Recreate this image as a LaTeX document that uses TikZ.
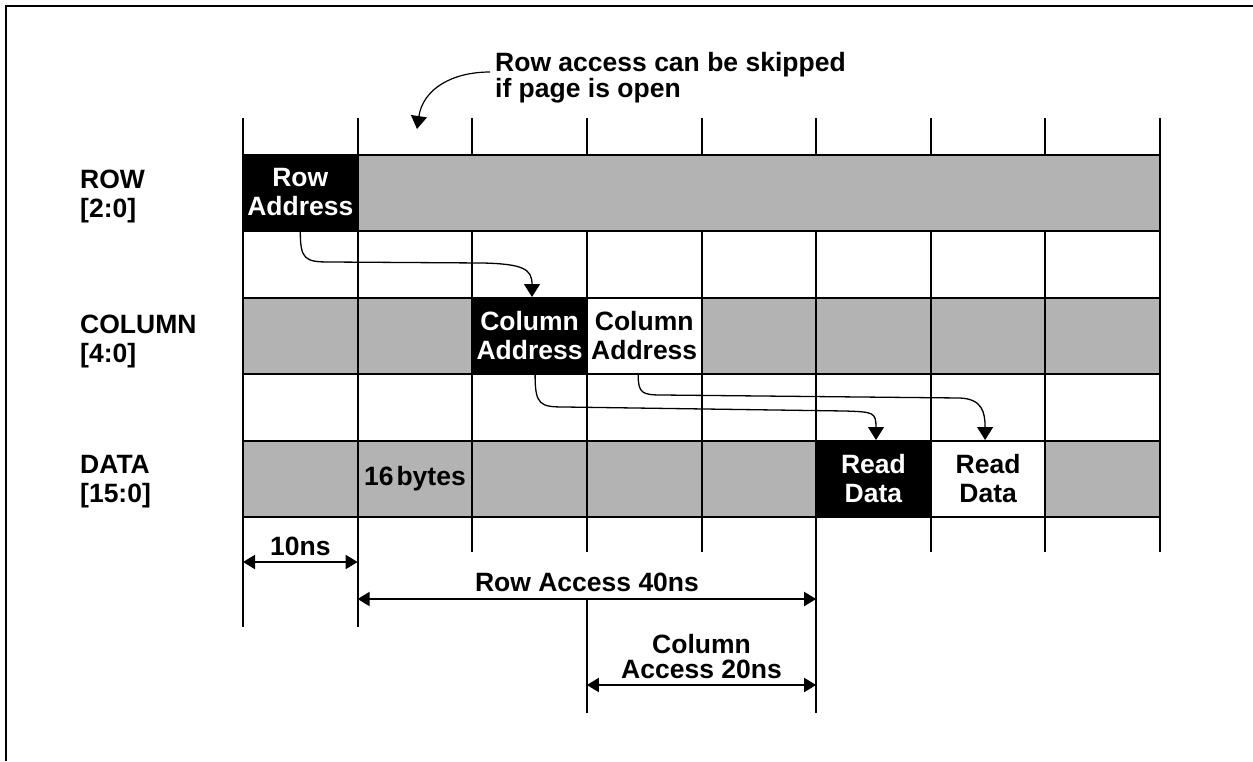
\documentclass[tikz,border=0pt]{standalone}
\usepackage{fontspec}
\setmainfont{Liberation Sans}
\usetikzlibrary{arrows.meta,calc}
\definecolor{bandgray}{RGB}{179,179,179}
\begin{document}
\begin{tikzpicture}[x=1pt,y=-1pt,
  lbl/.style={font=\bfseries\fontsize{26.5}{29}\selectfont, inner sep=0pt},
  cell/.style={lbl, draw, line width=2pt, minimum width=114.625pt,
               minimum height=76pt, align=center, fill=bandgray},
  blk/.style={cell, fill=black, text=white},
  wht/.style={cell, fill=white},
  grid/.style={line width=2pt},
  link/.style={line width=1.3pt, -{Triangle[length=13pt,width=16pt]}},
  dim/.style={line width=2pt,
              {Triangle[length=12pt,width=14pt]}-{Triangle[length=12pt,width=14pt]}},
]
\useasboundingbox (0,0) rectangle (1253,761);

% outer frame
\draw[line width=2pt] (6,761) -- (6,6) -- (1253,6);

% clock grid lines
\foreach \i in {0,...,8}
  \draw[grid] ({243+114.625*\i},118) -- ({243+114.625*\i},552);
\draw[grid] (243,552) -- (243,627);
\draw[grid] (357.625,552) -- (357.625,627);
\draw[grid] (816.125,552) -- (816.125,713);
\draw[grid] (586.875,599) -- (586.875,713);

% signal names
\node[lbl, align=left, anchor=north west] (nrow) at (80,170) {ROW\\{[2:0]}};
\node[lbl, align=left, anchor=north west] (ncol) at (80,315) {COLUMN\\{[4:0]}};
\node[lbl, align=left, anchor=north west] (ndat) at (80,455) {DATA\\{[15:0]}};

% ROW bus
\node[cell, minimum width=917pt] (rowband) at (701.5,192.5) {};
\node[blk] (ra) at (300.3,192.5) {Row\\Address};

% COLUMN bus
\foreach \i in {0,1,4,5,6,7}
  \node[cell] (col\i) at ({243+114.625*(\i+0.5)},336) {};
\node[blk] (ca) at (529.6,336) {Column\\Address};
\node[wht] (cb) at (644.2,336) {Column\\Address};

% DATA bus
\foreach \i in {0,2,3,4,7}
  \node[cell] (dat\i) at ({243+114.625*(\i+0.5)},479) {};
\node[cell] (dat1) at (414.9,479) {16\kern3pt bytes};
\node[blk] (rd1) at (873.4,479) {Read\\Data};
\node[wht] (rd2) at (988.1,479) {Read\\Data};

% note on the open page
\node[lbl, font=\bfseries\fontsize{26.5}{26}\selectfont, align=left,
      anchor=north west] (note) at (495,52)
  {Row access can be skipped\\if page is open};
\coordinate (notetip) at (417,129);
\draw[link, line width=1.2pt] ($(note.north west)+(-5,20)$) .. controls +(-38,0) and +(6,-40) .. (notetip);

% address-to-data dependencies
\draw[link] (ra.south) .. controls +(0,28) and +(-25,0) .. (330,262)
  -- (483,263) .. controls +(40,1) and +(0,-28) .. ([xshift=2.4pt]ca.north);
\draw[link] ([xshift=5.5pt]ca.south) .. controls +(0,30) and +(-25,0) .. (565,407)
  -- (845,411) .. controls +(28,1) and +(0,-28) .. ([xshift=2.6pt]rd1.north);
\draw[link] ([xshift=-6pt]cb.south) .. controls +(0,18) and +(-20,0) .. (662,395)
  -- (960,398) .. controls +(22,1) and +(0,-28) .. ([xshift=-3pt]rd2.north);

% timing dimensions
\coordinate (t0) at (243,562);
\coordinate (t1) at (357.625,562);
\draw[dim] (t0) -- (t1);
\node[lbl, anchor=base] (t10) at (300.3,555) {10ns};

\coordinate (r0) at (357.625,599);
\coordinate (r1) at (816.125,599);
\draw[dim] (r0) -- (r1);
\node[lbl, anchor=base] (trow) at (587,591) {Row Access 40ns};

\coordinate (k0) at (586.875,685);
\coordinate (k1) at (816.125,685);
\draw[dim] (k0) -- (k1);
\node[lbl, font=\bfseries\fontsize{26.5}{25}\selectfont, align=center,
      anchor=north] (tcol) at (701.5,634) {Column\\Access 20ns};
\end{tikzpicture}
\end{document}
